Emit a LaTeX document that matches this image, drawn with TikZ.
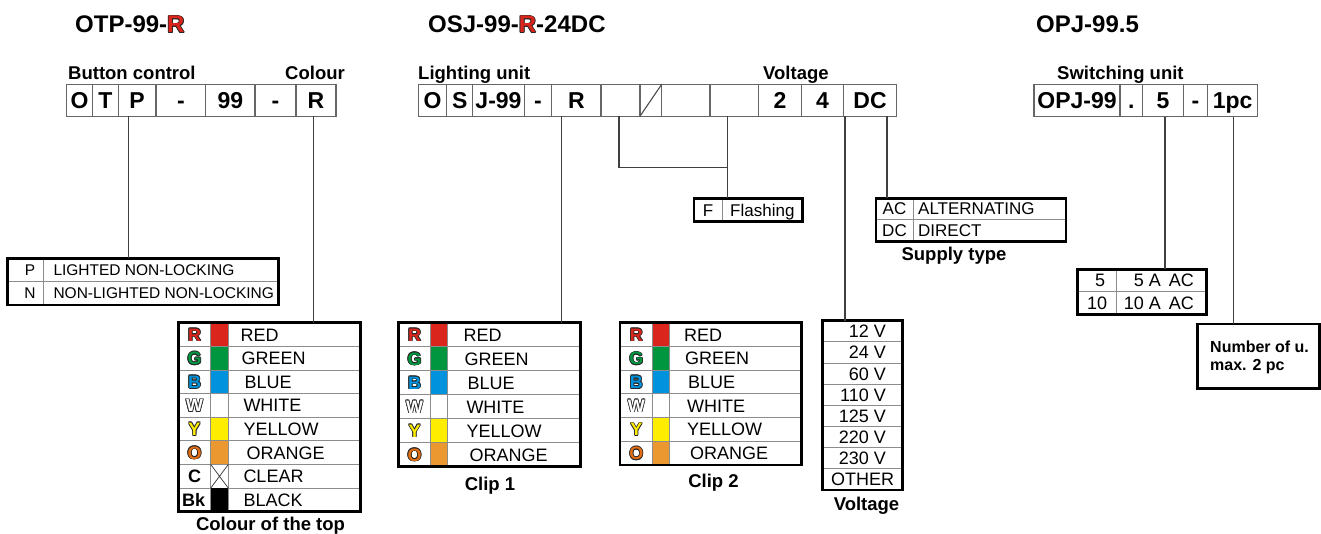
\documentclass[tikz,border=0pt]{standalone}
\usepackage{fontspec}
\setmainfont{Liberation Sans}
\definecolor{cR}{RGB}{218,37,29}
\definecolor{cG}{RGB}{0,150,64}
\definecolor{cB}{RGB}{0,146,221}
\definecolor{cY}{RGB}{255,237,0}
\definecolor{cO}{RGB}{235,152,48}
\definecolor{cOl}{RGB}{225,110,20}
\newcommand\fs[1]{\fontsize{#1}{#1}\selectfont}
\newcommand\olt[2]{\begingroup\def\oo##1##2{\rlap{\kern##1\raise##2\hbox{\color{black!85}#2}}}\oo{.75pt}{0pt}\oo{-.75pt}{0pt}\oo{0pt}{.75pt}\oo{0pt}{-.75pt}\oo{.55pt}{.55pt}\oo{-.55pt}{.55pt}\oo{.55pt}{-.55pt}\oo{-.55pt}{-.55pt}\textcolor{#1}{#2}\endgroup}
\tikzset{
 cellb/.style={draw=black!60, line width=1.1pt, minimum height=31.9, inner sep=0pt, outer sep=0pt, text height=16.6pt, text depth=0pt, font=\bfseries\fs{23}},
 tbl/.style={draw=black, line width=2.6pt, inner sep=0pt, outer sep=0pt},
 sep/.style={draw=black!45, line width=0.9pt},
 conn/.style={draw=black!75, line width=1.2pt},
 lbl/.style={inner sep=0pt, font=\bfseries\fs{18.5}},
 ttl/.style={inner sep=0pt, font=\bfseries\fs{24}},
 rt/.style={inner sep=0pt, font=\fs{18}},
 lt/.style={inner sep=0pt, anchor=base, font=\bfseries\fs{18}},
}
\def\crows{0/{\olt{cR}{R}}/cR/RED/62, 1/{\olt{cG}{G}}/cG/GREEN/63, 2/{\olt{cB}{B}}/cB/BLUE/66, 3/{\olt{white}{W}}/white/WHITE/65, 4/{\olt{cY}{Y}}/cY/YELLOW/65, 5/{\olt{cOl}{O}}/cO/ORANGE/68}
% name L T R B c1 c2 nrows extra-dx
\newcommand\ctable[9]{%
 \pgfmathsetmacro\rh{(#5-#3)/#8}%
 \foreach \i/\lt/\sw/\tx/\dx in \crows {
   \pgfmathsetmacro\yy{#3+\i*\rh}
   \fill[\sw] (#6,\yy) rectangle (#7,\yy+\rh);
   \draw[sep] (#2,\yy) -- (#4,\yy);
   \node[lt] (#1-l\i) at ({(#2+#6)/2},\yy+\rh/2+6.5) {\lt};
   \node[rt,anchor=base west] (#1-t\i) at (#2+\dx+#9,\yy+\rh/2+6.5) {\tx};
 }
 \draw[sep] (#6,#3) -- (#6,#5);
 \draw[sep] (#7,#3) -- (#7,#5);
}
\newcommand\cellx[4]{\node[cellb, anchor=north west, minimum width={#3-#2}] (#1) at (#2,84.3) {#4};}
\begin{document}
\begin{tikzpicture}[x=1pt,y=-1pt]
\useasboundingbox (0,0) rectangle (1321,534);
% ---------- titles ----------
\node[ttl, anchor=base west] (t1) at (75,33) {OTP-99-\olt{cR}{R}};
\node[ttl, anchor=base west] (t2) at (428,33) {OSJ-99-\olt{cR}{R}-24DC};
\node[ttl, anchor=base west] (t3) at (1036,33) {OPJ-99.5};
% ---------- labels ----------
\node[lbl, anchor=base west] (l1) at (68,80) {Button control};
\node[lbl, anchor=base west] (l2) at (285,80) {Colour};
\node[lbl, anchor=base west] (l3) at (418,80) {Lighting unit};
\node[lbl, anchor=base west] (l4) at (763,80) {Voltage};
\node[lbl, anchor=base west] (l5) at (1057,80) {Switching unit};
% ---------- left code row ----------
\cellx{a1}{66.7}{92.3}{O}
\cellx{a2}{92.3}{118.3}{T}
\cellx{a3}{118.3}{156}{P}
\cellx{a4}{156}{205.7}{-}
\cellx{a5}{205.7}{255}{99}
\cellx{a6}{255}{296}{-}
\cellx{a7}{296}{336}{R}
% ---------- middle code row ----------
\cellx{b1}{418.3}{446.7}{O}
\cellx{b2}{446.7}{472.7}{S}
\cellx{b3}{472.7}{524.3}{J-99}
\cellx{b4}{524.3}{551.7}{-}
\cellx{b5}{551.7}{601}{R}
\cellx{b6}{601}{640}{}
\cellx{b7}{640}{661.7}{}
\cellx{b8}{661.7}{710}{}
\cellx{b9}{710}{758.3}{}
\cellx{b10}{758.3}{801.7}{2}
\cellx{b11}{801.7}{843.3}{4}
\cellx{b12}{843.3}{896.7}{DC}
\draw[black!70, line width=1.1pt] (b7.south west) -- (b7.north east);
% ---------- right code row ----------
\cellx{c1}{1034}{1120}{OPJ-99}
\cellx{c2}{1120}{1142.7}{.}
\cellx{c3}{1142.7}{1183.3}{5}
\cellx{c4}{1183.3}{1207.7}{-}
\cellx{c5}{1207.7}{1257.7}{1pc}
% ---------- P/N table ----------
\draw[sep] (7.3,281.7) -- (278.3,281.7);
\draw[sep] (43.3,258.3) -- (43.3,305);
\node[inner sep=0pt, anchor=base, font=\fs{15.5}] (pn1) at (30,275.5) {P};
\node[inner sep=0pt, anchor=base, font=\fs{15.5}] (pn2) at (30,298.9) {N};
\node[inner sep=0pt, anchor=base west, font=\fs{15.5}] (pn3) at (53.3,275.5) {LIGHTED NON-LOCKING};
\node[inner sep=0pt, anchor=base west, font=\fs{15.5}] (pn4) at (53.3,298.9) {NON-LIGHTED NON-LOCKING};
\node[tbl, anchor=north west, minimum width=271, minimum height=46.7] (pn) at (7.3,258.3) {};
% ---------- colour of the top ----------
\ctable{ct}{178.3}{322.7}{360.7}{511.7}{210.7}{228.3}{8}{0}
\draw[sep] (178.3,464.45) -- (360.7,464.45);
\draw[sep] (178.3,488.075) -- (360.7,488.075);
\draw[black!80, line width=0.7pt] (210.7,464.45) -- (228.3,488.075) (228.3,464.45) -- (210.7,488.075);
\fill[black] (210.7,488.075) rectangle (228.3,511.7);
\node[lt] (ct-l6) at (194.5,482.8) {C};
\node[inner sep=0pt, anchor=base west, font=\bfseries\fs{18}] (ct-l7) at (182,506.4) {Bk};
\node[rt, anchor=base west] (ct-t6) at (243.3,482.8) {CLEAR};
\node[rt, anchor=base west] (ct-t7) at (243.3,506.4) {BLACK};
\node[tbl, anchor=north west, minimum width=182.4, minimum height=189] (ct) at (178.3,322.7) {};
\node[lbl, anchor=base] (ctl) at (270.5,530) {Colour of the top};
% ---------- clip 1 / clip 2 ----------
\ctable{k1}{398.3}{322.7}{580.7}{466.7}{430.7}{447.3}{6}{3}
\node[tbl, anchor=north west, minimum width=182.4, minimum height=144] (clip1) at (398.3,322.7) {};
\node[lbl, anchor=base] (clip1l) at (490,490) {Clip 1};
\ctable{k2}{620}{322.7}{801.7}{465}{652.7}{669.3}{6}{2}
\node[tbl, anchor=north west, minimum width=181.7, minimum height=142.3] (clip2) at (620,322.7) {};
\node[lbl, anchor=base] (clip2l) at (713.5,487) {Clip 2};
% ---------- F flashing ----------
\draw[sep] (722.7,198.3) -- (722.7,221.7);
\node[inner sep=0pt, anchor=base, font=\fs{17}] (f1) at (708,216.1) {F};
\node[inner sep=0pt, anchor=base west, font=\fs{17}] (f2) at (730,216.1) {Flashing};
\node[tbl, anchor=north west, minimum width=108.7, minimum height=23.4] (ff) at (694,198.3) {};
% ---------- supply type ----------
\draw[sep] (876,219.3) -- (1066,219.3);
\draw[sep] (913.3,198.3) -- (913.3,241.7);
\node[inner sep=0pt, anchor=base, font=\fs{17}] (s1) at (894.5,214.9) {AC};
\node[inner sep=0pt, anchor=base, font=\fs{17}] (s2) at (894.5,236.6) {DC};
\node[inner sep=0pt, anchor=base west, font=\fs{17}] (s3) at (918,214.9) {ALTERNATING};
\node[inner sep=0pt, anchor=base west, font=\fs{17}] (s4) at (918,236.6) {DIRECT};
\node[tbl, anchor=north west, minimum width=190, minimum height=43.4] (st) at (876,198.3) {};
\node[lbl, anchor=base] (stl) at (954,261) {Supply type};
% ---------- voltage table ----------
\foreach \i/\v in {0/12 V,1/24 V,2/60 V,3/110 V,4/125 V,5/220 V,6/230 V}{
  \pgfmathsetmacro\yy{320.7+\i*21.16}
  \draw[sep] (822.7,\yy) -- (902.3,\yy);
  \node[rt, anchor=base east] (v\i) at (886,\yy+10.58+6.5) {\v};
}
\draw[sep] (822.7,468.8) -- (902.3,468.8);
\node[rt, anchor=base] (v7) at (862.5,479.4+6.5) {OTHER};
\node[tbl, anchor=north west, minimum width=79.6, minimum height=169.3] (vt) at (822.7,320.7) {};
\node[lbl, anchor=base] (vtl) at (866.5,510) {Voltage};
% ---------- switching table ----------
\draw[sep] (1077.3,291.7) -- (1206.7,291.7);
\draw[sep] (1116.7,269.3) -- (1116.7,314.3);
\node[rt, anchor=base] (w1) at (1100,286.9) {5};
\node[rt, anchor=base] (w2) at (1097,309.4) {10};
\node[rt, anchor=base east] (w3) at (1194,286.9) {5 A\,\ AC};
\node[rt, anchor=base east] (w4) at (1194,309.4) {10 A\,\ AC};
\node[tbl, anchor=north west, minimum width=129.4, minimum height=45] (sw) at (1077.3,269.3) {};
\node[tbl, anchor=north west, minimum width=122, minimum height=64.3] (nu) at (1197.3,324) {};
\node[inner sep=0pt, anchor=base west, font=\bfseries\fs{16}] (nu1) at (1210,352.4) {Number of u.};
\node[inner sep=0pt, anchor=base west, font=\bfseries\fs{16}] (nu2) at (1210,370.7) {max. 2 pc};
% ---------- connectors ----------
\coordinate (kP) at (128.3,116);
\coordinate (kR) at (313.3,116);
\coordinate (kC1) at (561.7,116);
\coordinate (kC2) at (619,116);
\coordinate (kF) at (727.3,116);
\coordinate (kV) at (845,116);
\coordinate (kS) at (887,116);
\coordinate (kA) at (1165,116.7);
\coordinate (kN) at (1233.3,116.7);
\coordinate (kJ) at (727.3,167.7);
\draw[conn] (kP) -- (kP |- pn.north);
\draw[conn] (kR) -- (kR |- ct.north);
\draw[conn] (kC1) -- (kC1 |- clip1.north);
\draw[conn] (kC2) |- (kJ);
\draw[conn] (kF) -- (kF |- ff.north);
\draw[conn] (kV) -- (kV |- vt.north);
\draw[conn] (kS) -- (kS |- st.north);
\draw[conn] (kA) -- (kA |- sw.north);
\draw[conn] (kN) -- (kN |- nu.north);
\end{tikzpicture}
\end{document}
